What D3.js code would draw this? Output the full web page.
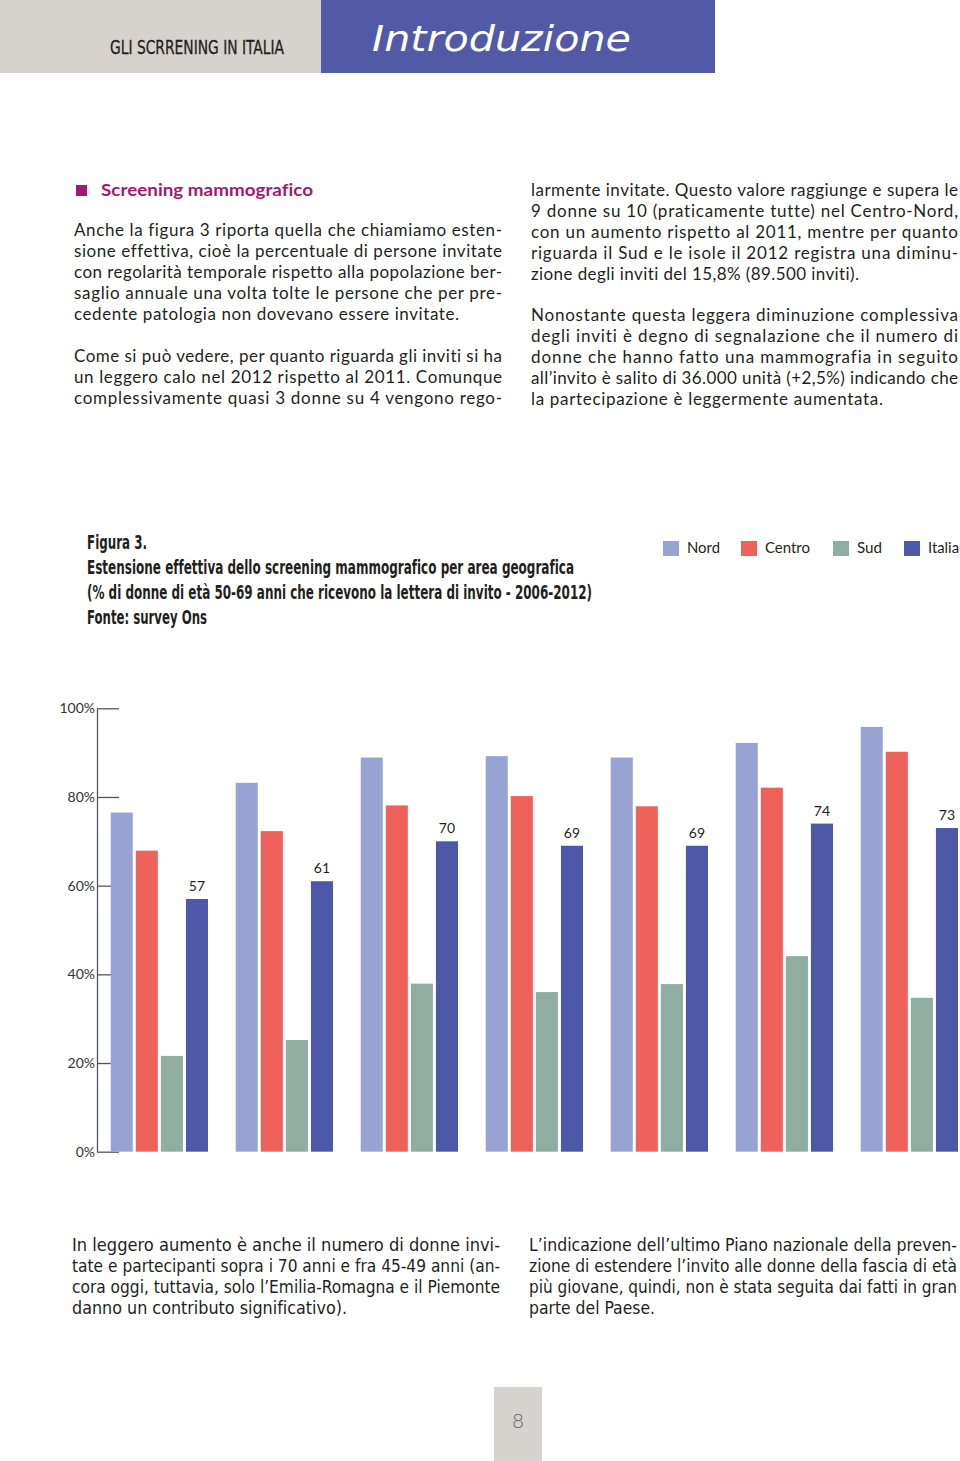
<!DOCTYPE html>
<html><head><meta charset="utf-8">
<script src="https://cdn.jsdelivr.net/npm/d3@7"></script>
<style>
html,body{margin:0;padding:0;background:#fff;}
svg{display:block;}
text{font-variant-ligatures:no-common-ligatures;}
</style></head>
<body>
<script>
// ---- data ----
const years = ["2006","2007","2008","2009","2010","2011","2012"];
const seriesNames = ["Nord","Centro","Sud","Italia"];
const nord   = [76.5, 83.2, 88.9, 89.2, 88.9, 92.2, 95.8];
const centro = [67.9, 72.3, 78.1, 80.2, 77.9, 82.1, 90.2];
const sud    = [21.6, 25.2, 37.9, 36.0, 37.8, 44.1, 34.7];
const italia = [57, 61, 70, 69, 69, 74, 73];
const yTicks = [0, 20, 40, 60, 80, 100];
const colors = ["#97a4d3", "#ef625c", "#8fada0", "#4e58a8"];

const W = 960, H = 1461;
const svg = d3.select("body").append("svg").attr("width", W).attr("height", H);

const bodyFont = "Lato, 'Open Sans', sans-serif";
const condFont = "'Liberation Sans Narrow', 'DejaVu Sans Condensed', 'Arial Narrow', sans-serif";
const ink = "#231f20";

// ---- header ----
svg.append("rect").attr("x",0).attr("y",0).attr("width",321).attr("height",73).attr("fill","#d6d2cd");
svg.append("rect").attr("x",321).attr("y",0).attr("width",394).attr("height",73).attr("fill","#5259a6");
svg.append("text").attr("x",110).attr("y",54).attr("font-family",condFont).attr("font-size",20)
  .attr("fill","#231f20").attr("stroke","#231f20").attr("stroke-width",0.3)
  .attr("textLength",174).attr("lengthAdjust","spacingAndGlyphs")
  .text("GLI SCRRENING IN ITALIA");
svg.append("text").attr("x",372).attr("y",51).attr("font-family","'DejaVu Sans', sans-serif")
  .attr("font-style","italic").attr("font-weight",200).attr("font-size",35)
  .attr("fill","#ffffff").attr("textLength",259).attr("lengthAdjust","spacingAndGlyphs")
  .text("Introduzione");

// ---- helper for text lines ----
// l = [text, width, anchorEnd?]
function lines(x, y0, lh, arr, opts) {
  arr.forEach((l, i) => {
    const endAnchor = !!l[2];
    svg.append("text").attr("x", endAnchor ? x + l[1] : x).attr("y", y0 + i * lh)
      .attr("text-anchor", endAnchor ? "end" : "start")
      .attr("font-family", opts.font).attr("font-size", opts.size)
      .attr("font-weight", opts.weight || 400)
      .attr("fill", opts.fill || ink)
      .attr("textLength", l[1]).attr("lengthAdjust", opts.adjust || "spacing")
      .text(l[0]);
  });
}

// ---- top section ----
svg.append("rect").attr("x",76).attr("y",185).attr("width",11).attr("height",11).attr("fill","#a3176e");
svg.append("text").attr("x",101).attr("y",196).attr("font-family",bodyFont).attr("font-size",17.5)
  .attr("font-weight",700).attr("fill","#a3176e").attr("textLength",212).attr("lengthAdjust","spacingAndGlyphs")
  .text("Screening mammografico");

const bodyOpts = {font: bodyFont, size: 17};
lines(74, 236, 20.9, [
  ["Anche la figura 3 riporta quella che chiamiamo esten-", 428],
  ["sione effettiva, cioè la percentuale di persone  invitate", 428],
  ["con regolarità temporale rispetto alla popolazione ber-", 428],
  ["saglio annuale una volta tolte le persone che per pre-", 428],
  ["cedente patologia non dovevano essere invitate.", 385]
], bodyOpts);
lines(74, 362, 20.9, [
  ["Come si può vedere, per quanto riguarda gli inviti si ha", 428],
  ["un leggero calo nel 2012 rispetto al 2011. Comunque", 428],
  ["complessivamente quasi 3 donne su 4 vengono rego-", 428]
], bodyOpts);
lines(531, 196, 20.9, [
  ["larmente invitate. Questo valore raggiunge e supera le", 427],
  ["9 donne su 10 (praticamente tutte) nel Centro-Nord,", 427],
  ["con un aumento  rispetto al 2011, mentre per quanto", 427],
  ["riguarda il Sud e le isole il 2012 registra una diminu-", 427],
  ["zione degli inviti del 15,8% (89.500 inviti).", 328]
], bodyOpts);
lines(531, 321, 20.9, [
  ["Nonostante questa leggera diminuzione complessiva", 427],
  ["degli inviti è degno di segnalazione che il numero di", 427],
  ["donne che hanno fatto una mammografia in seguito", 427],
  ["all’invito è salito di 36.000 unità (+2,5%) indicando che", 427],
  ["la partecipazione è leggermente aumentata.", 352]
], bodyOpts);

// ---- figure title ----
lines(87, 549, 25, [
  ["Figura 3.", 60],
  ["Estensione effettiva dello screening mammografico per area geografica", 487],
  ["(% di donne di età 50-69 anni che ricevono la lettera di invito - 2006-2012)", 505],
  ["Fonte: survey Ons", 120]
], {font: condFont, size: 19, weight: 700, adjust: "spacingAndGlyphs"});

// ---- legend ----
const legX = [663, 741, 833, 904];
const legW = [33, 45, 25, 31];
seriesNames.forEach((s, i) => {
  svg.append("rect").attr("x", legX[i]).attr("y", 541).attr("width", 16).attr("height", 15).attr("fill", colors[i]);
  svg.append("text").attr("x", legX[i] + 24).attr("y", 553).attr("font-family", bodyFont)
    .attr("font-size", 15).attr("fill", ink).attr("textLength", legW[i]).attr("lengthAdjust","spacingAndGlyphs").text(s);
});

// ---- chart ----
const x0 = d3.scaleBand().domain(years).range([110.7, 958]).paddingInner(0.2216).paddingOuter(0);
const x1 = d3.scaleBand().domain(seriesNames).range([0, x0.bandwidth()]).paddingInner(0.12).paddingOuter(0);
const y = d3.scaleLinear().domain([0, 100]).range([1151.7, 708.3]);
const seriesVals = [nord, centro, sud, italia];

const axis = d3.axisLeft(y).tickValues(yTicks).tickSizeInner(-22).tickSizeOuter(0).tickPadding(2)
  .tickFormat(d => d + "%");
const gAx = svg.append("g").attr("transform", "translate(97,0)").call(axis);
gAx.select(".domain").attr("stroke", "#555").attr("stroke-width", 1.3);
gAx.selectAll(".tick line").attr("stroke", "#555").attr("stroke-width", 1.3);
gAx.selectAll(".tick text").attr("font-family", bodyFont).attr("font-size", 14).attr("fill", "#333");

const groups = svg.append("g").selectAll("g").data(years).join("g")
  .attr("transform", d => `translate(${x0(d)},0)`);
groups.selectAll("rect").data((d, gi) => seriesNames.map((s, si) => ({s, si, v: seriesVals[si][gi]})))
  .join("rect")
  .attr("x", d => x1(d.s)).attr("width", x1.bandwidth())
  .attr("y", d => y(d.v)).attr("height", d => y(0) - y(d.v))
  .attr("fill", d => colors[d.si]);
groups.append("text")
  .attr("x", x1("Italia") + x1.bandwidth() / 2)
  .attr("y", (d, gi) => y(italia[gi]) - 8)
  .attr("text-anchor", "middle").attr("font-family", bodyFont).attr("font-size", 14).attr("fill", ink)
  .text((d, gi) => italia[gi]);

// ---- bottom text ----
const condBody = {font: condFont, size: 17, adjust: "spacingAndGlyphs"};
lines(72, 1251, 21, [
  ["In leggero aumento è anche il numero di donne invi-", 428],
  ["tate e partecipanti sopra i 70 anni e  fra 45-49 anni (an-", 428],
  ["cora oggi, tuttavia, solo l’Emilia-Romagna e il Piemonte", 428],
  ["danno un contributo significativo).", 275]
], condBody);
lines(529, 1251, 21, [
  ["L’indicazione dell’ultimo Piano nazionale della preven-", 428, true],
  ["zione di estendere l’invito alle donne della fascia di età", 428, true],
  ["più giovane, quindi, non è stata seguita dai fatti in gran", 428, true],
  ["parte del Paese.", 126]
], condBody);

// ---- page number ----
svg.append("rect").attr("x",494).attr("y",1387).attr("width",48).attr("height",74).attr("fill","#d6d2cd");
svg.append("text").attr("x",518).attr("y",1428).attr("text-anchor","middle").attr("font-family",bodyFont)
  .attr("font-weight",300).attr("font-size",20).attr("fill","#666").text("8");
</script>
</body></html>
